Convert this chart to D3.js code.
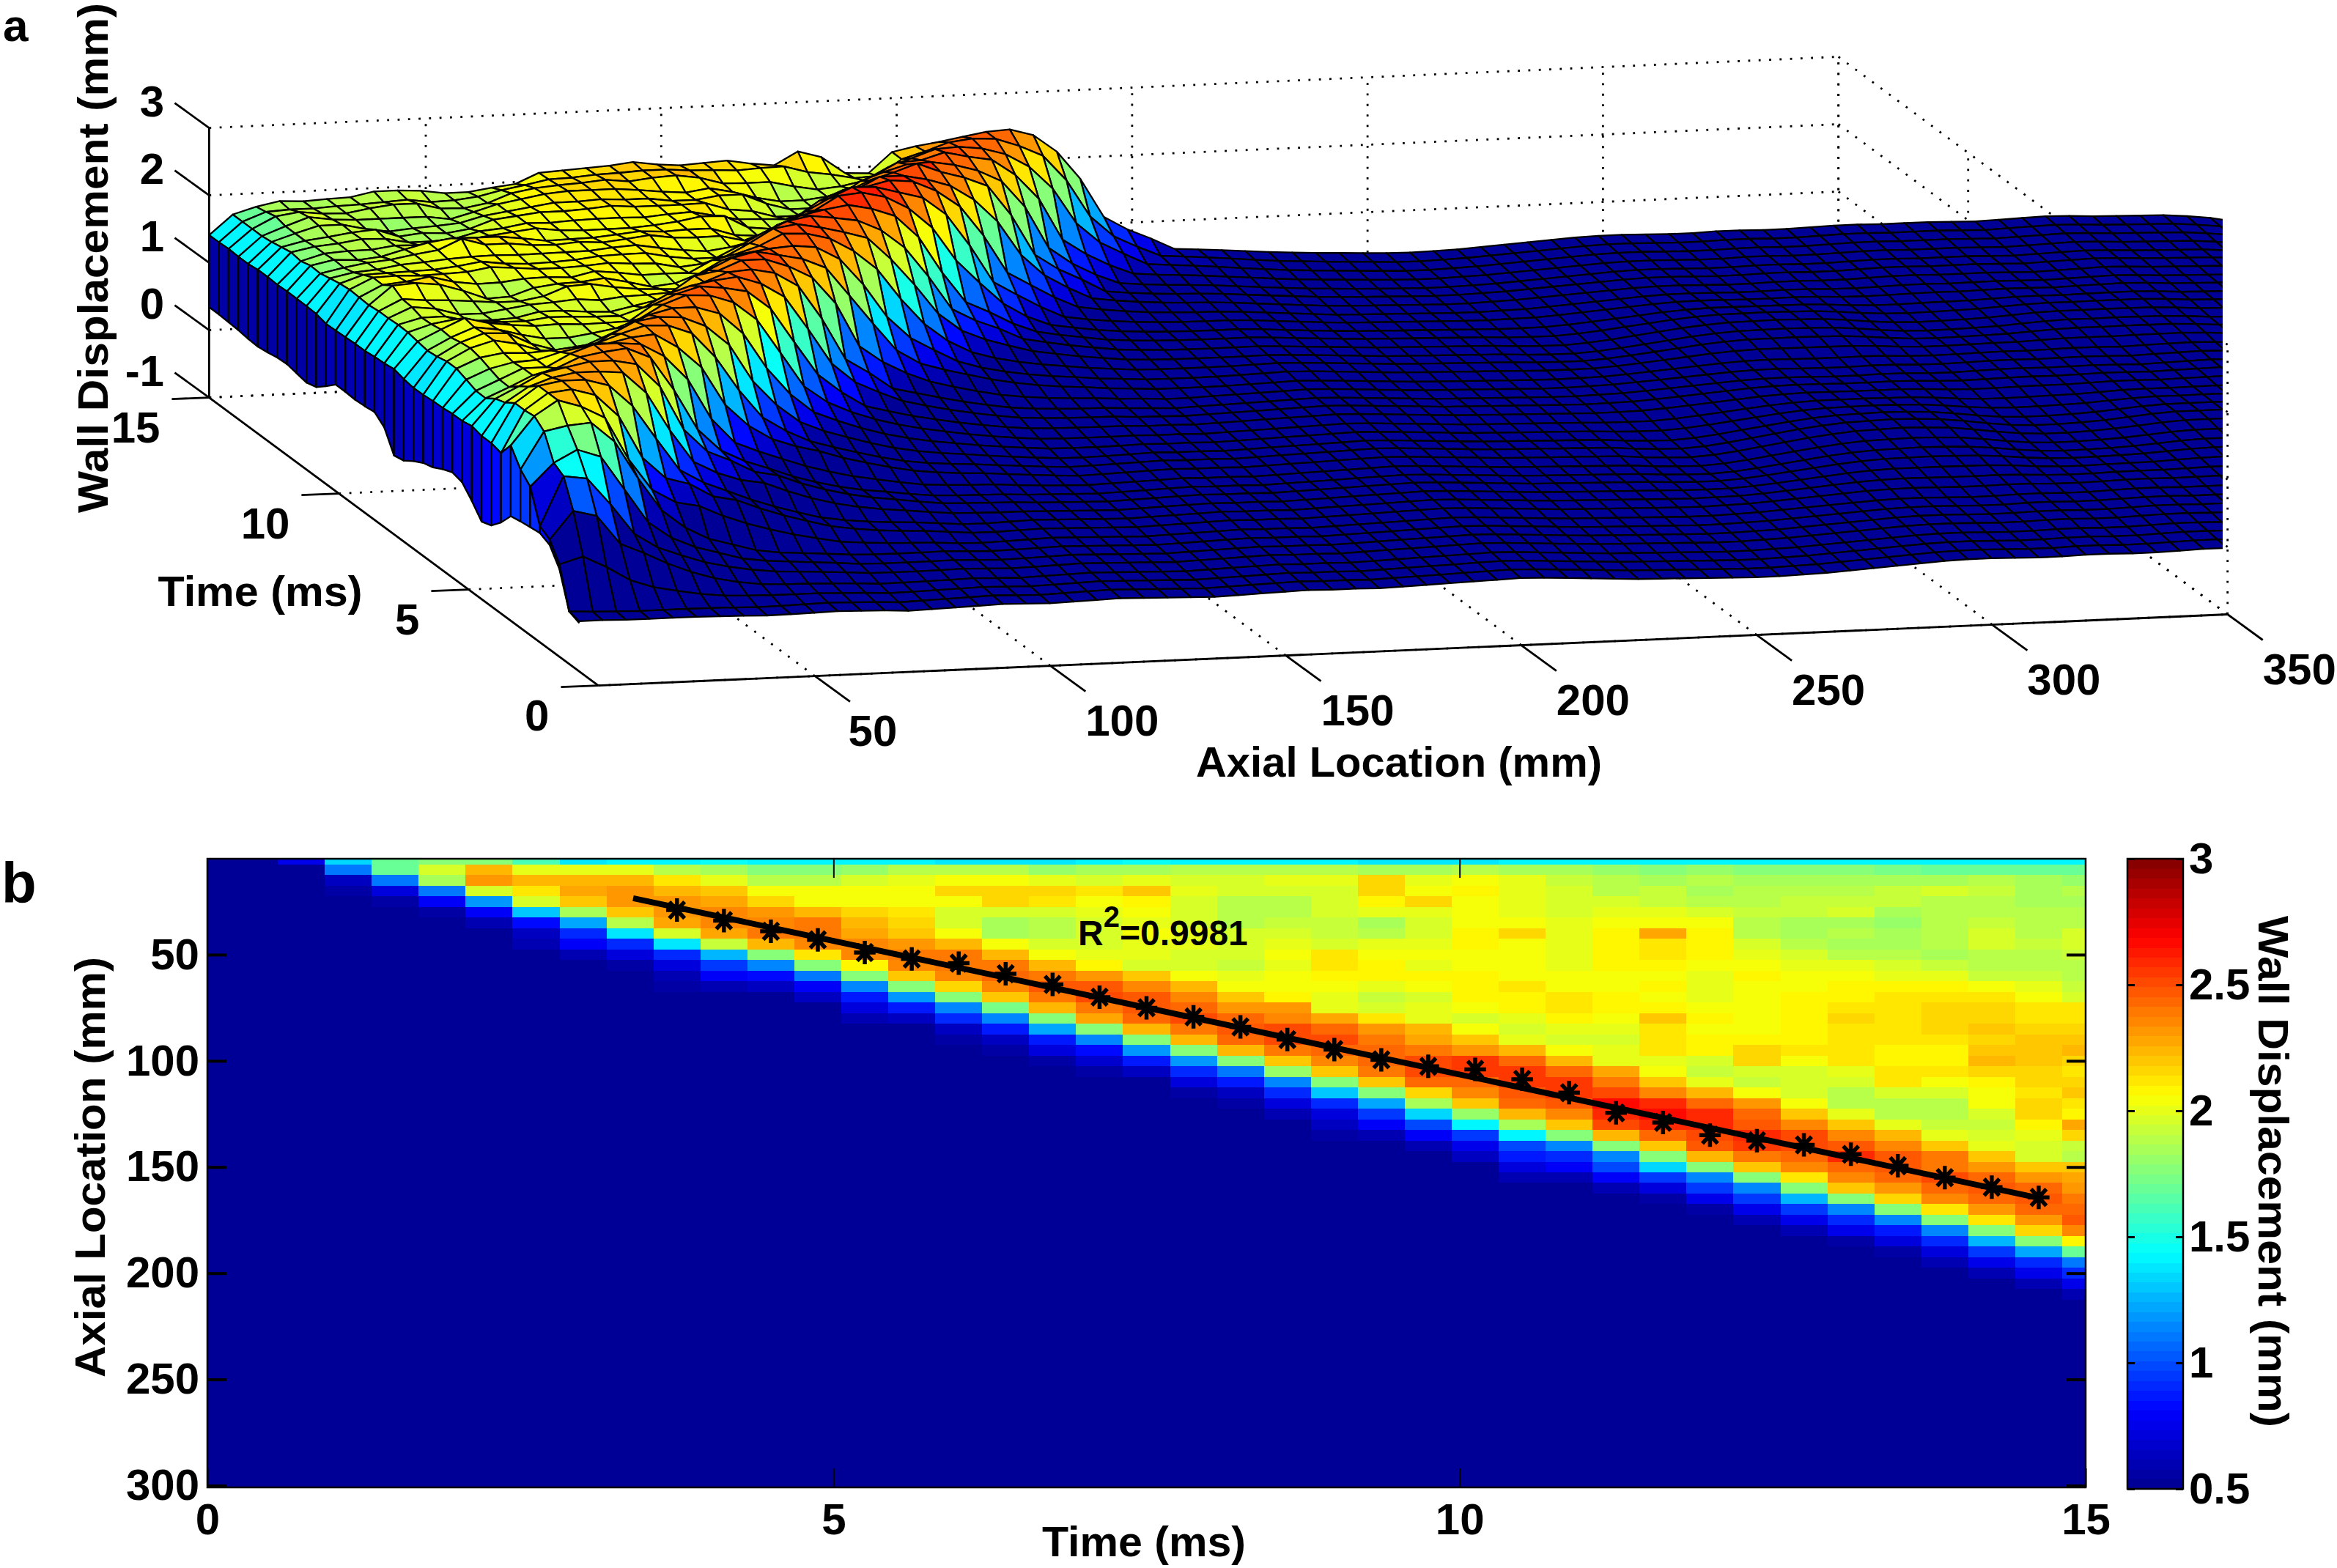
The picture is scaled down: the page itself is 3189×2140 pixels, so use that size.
<!DOCTYPE html>
<html><head><meta charset="utf-8">
<script src="https://cdnjs.cloudflare.com/ajax/libs/d3/7.8.5/d3.min.js"></script>
<style>html,body{margin:0;padding:0;background:#fff}svg{display:block}text{font-family:"Liberation Sans",Arial,sans-serif;font-weight:bold;fill:#000}</style>
</head><body><svg id="c" width="3189" height="2140" viewBox="0 0 3189 2140"></svg>
<script>
// --- values: wall displacement (mm) per time column, rows at 5 mm steps
const wall00=[],wall01=[],wall02=[.75];
const wall03=[1.35,1.12,.63,.55];
const wall04=[1.68,1.7,1.1,.72,.55];
const wall05=[1.75,1.95,1.85,1.12,.8,.56];
const wall06=[1.75,2.24,2.3,1.95,1.2,.8,.6];
const wall07=[1.6,2.02,2.24,2.13,1.95,1.32,.85,.65,.58];
const wall08=[1.38,2,2.24,2.28,2.18,1.85,1.22,.9,.8,.6,.53];
const wall09=[1.42,2,2.24,2.3,2.3,2.2,1.88,1.38,.9,.7,.56];
const wall10=[1.42,1.9,2.12,2.24,2.3,2.3,2.27,1.95,1.38,.9,.72,.6,.54];
const wall11=[1.46,1.85,2.02,2.2,2.27,2.34,2.34,2.27,1.92,1.27,.93,.78,.6,.53];
const wall12=[1.43,1.75,1.9,2.06,2.15,2.3,2.36,2.4,2.25,1.75,1.15,.82,.65,.53];
const wall13=[1.43,1.75,1.9,2.06,2.06,2.25,2.38,2.38,2.34,2.12,1.75,1.12,.78,.65,.53];
const wall14=[1.41,1.8,1.95,2.04,2.06,2.17,2.24,2.27,2.34,2.36,2.1,1.75,1.15,.88,.7,.6,.52];
const wall15=[1.41,1.87,2,2.04,2.06,2.12,2.17,2.2,2.3,2.38,2.36,2.2,1.75,1.2,.86,.65,.53];
const wall16=[1.39,1.87,2.06,2.15,2.04,1.98,1.98,2.06,2.24,2.4,2.4,2.34,2.15,1.75,1.15,.92,.65,.56];
const wall17=[1.39,1.87,2.04,2.15,2.15,1.95,1.85,1.85,2.06,2.25,2.38,2.42,2.34,2.2,1.72,1.15,.88,.65,.55];
const wall18=[1.38,1.8,2.02,2.15,2.12,1.98,1.87,1.87,1.95,2.06,2.25,2.38,2.46,2.38,2.24,1.75,1.22,.88,.7,.56];
const wall19=[1.43,1.83,1.98,2.12,2.06,2,1.95,1.95,1.98,2,2.08,2.32,2.48,2.5,2.4,2.27,1.78,1.15,.85,.68,.55];
const wall20=[1.46,1.85,2.02,2.18,2.08,2.04,2.02,2.04,2,2,1.98,2.2,2.34,2.47,2.46,2.42,2.24,1.78,1.2,.88,.62,.53];
const wall21=[1.42,1.88,1.97,2,1.95,1.95,1.95,2,2,1.98,1.98,2.06,2.25,2.36,2.44,2.5,2.4,2.25,1.78,1.2,.9,.72,.56];
const wall22=[1.42,1.88,1.97,1.97,1.88,1.88,1.9,1.98,1.98,1.95,1.93,2,2.06,2.2,2.3,2.44,2.48,2.42,2.24,1.75,1.1,.88,.62,.54];
const wall23=[1.4,1.87,2.02,1.98,1.88,1.88,1.93,1.98,2,2.03,2,2.04,2.05,2.07,2.3,2.36,2.5,2.5,2.38,2.2,1.8,1.15,.9,.72,.58];
const wall24=[1.4,1.87,2.02,1.98,1.97,1.95,1.93,1.93,1.98,2.12,2.14,2.07,2.03,2.02,2,2.28,2.44,2.52,2.44,2.36,2.2,1.75,1.32,.92,.72,.62,.54];
const wall25=[1.39,1.85,2.15,2.17,2.1,2,1.85,1.87,2,2.05,2.07,2.1,2.02,1.93,1.97,2.12,2.3,2.4,2.44,2.44,2.4,2.18,1.75,1.22,.93,.78,.6];
const wall26=[1.39,1.85,2.02,2.06,2.15,2.02,1.95,1.95,2,2.03,2,2.1,2.05,1.98,2,2.02,2.24,2.28,2.38,2.52,2.5,2.42,2.17,1.83,1.35,.97,.78,.6];
const wall27=[1.36,1.88,2.05,2.07,2.05,2.05,2.05,2.08,2.1,2.06,2.06,2.08,2.08,2.07,2.05,1.98,2.05,2.2,2.33,2.55,2.55,2.44,2.36,2.2,1.8,1.4,.95,.77,.62,.53];
const wall28=[1.4,1.85,2,2,2,2.02,2.06,2.15,2.06,2.04,2.04,2.05,2.12,2.07,2.07,2,1.98,2,2.25,2.42,2.55,2.55,2.46,2.44,2.22,1.83,1.4,1,.86,.73,.58];
const wall29=[1.43,1.85,1.93,1.95,1.97,1.97,2,2.02,2.02,2,2.02,2.05,2.06,2.13,2.14,2.07,2,1.98,2.06,2.25,2.42,2.55,2.55,2.46,2.36,2.2,1.75,1.15,.92,.78,.6];
const wall30=[1.42,1.8,1.87,1.9,1.98,2.02,2.05,2.07,2.08,2.08,2.07,2.06,2.06,2.07,2.1,2.05,2.02,1.98,2,2,2.26,2.38,2.5,2.65,2.6,2.5,2.25,1.75,1.15,.97,.78,.6];
const wall31=[1.43,1.78,1.85,1.92,1.93,2,2.06,2.27,2.12,2.12,2.07,2.06,2.1,2.06,2.1,2.18,2.12,2.12,2.12,2,2.06,2.2,2.36,2.58,2.65,2.58,2.42,2.2,1.75,1.33,.95,.73,.56];
const wall32=[1.43,1.8,1.87,1.83,1.87,1.97,2.06,2.07,2.1,2.1,2.06,2,2,2.02,2.05,2.07,2.06,2.08,2.08,1.97,1.92,2,2.25,2.42,2.6,2.6,2.52,2.46,2.24,1.75,1.15,.95,.75,.56];
const wall33=[1.42,1.75,1.85,1.88,1.88,1.92,1.9,1.88,1.95,2,2.05,2.1,2.05,2.03,2.03,2.03,2.06,2.1,2.17,2.17,1.97,1.92,2.06,2.3,2.44,2.48,2.58,2.55,2.4,2.18,1.75,1.15,.95,.75,.58];
const wall34=[1.43,1.78,1.85,1.88,1.93,1.92,1.85,1.85,1.88,1.97,2,2.06,2.05,2.07,2.08,2.08,2.07,2.1,2.12,2.05,1.98,1.97,1.95,2.06,2.2,2.34,2.52,2.52,2.45,2.34,2.12,1.78,1.27,.95,.75,.58];
const wall35=[1.43,1.75,1.83,1.87,1.92,1.95,1.83,1.87,1.85,1.9,2.02,2.06,2.1,2.1,2.12,2.15,2.12,2.12,2.12,2.13,2.02,1.98,1.88,1.88,2,2.2,2.36,2.46,2.58,2.44,2.34,2.2,1.75,1.15,.92,.75,.56];
const wall36=[1.41,1.72,1.83,1.93,1.93,1.85,1.8,1.83,1.85,1.88,1.97,2.02,2.07,2.12,2.12,2.14,2.12,2.12,2.07,2.07,2.12,2.12,1.97,1.87,1.87,2,2.24,2.36,2.46,2.48,2.42,2.32,2.15,1.75,1.13,.88,.7,.56];
const wall37=[1.41,1.7,1.83,1.95,1.9,1.88,1.88,1.88,1.88,1.83,1.92,2.02,2.08,2.14,2.17,2.17,2.17,2.14,2.1,2.07,2.12,2.05,1.95,1.88,1.88,1.92,2.02,2.2,2.38,2.4,2.5,2.42,2.36,2.12,1.75,1.13,.9,.72,.58];
const wall38=[1.42,1.7,1.87,1.92,1.88,1.87,1.93,1.97,1.97,1.88,1.87,1.93,2.06,2.12,2.15,2.17,2.2,2.16,2.2,2.22,2.17,2.07,2.06,2.06,1.98,1.92,1.95,2.02,2.2,2.32,2.44,2.46,2.42,2.32,2.12,1.78,1.25,.95,.77,.6];
const wall39=[1.41,1.7,1.83,1.85,1.85,1.87,1.88,1.9,1.92,1.87,1.88,1.92,2,2.06,2.13,2.14,2.17,2.18,2.2,2.2,2.17,2.16,2.14,2.16,2.17,2.07,2.02,1.95,1.97,2.2,2.3,2.42,2.46,2.44,2.32,2.16,1.78,1.23,.92,.75,.6];
const wall40=[1.41,1.7,1.8,1.87,1.85,1.87,1.88,1.95,1.95,1.93,1.88,1.88,1.93,1.97,2.12,2.14,2.16,2.18,2.22,2.17,2.14,2.16,2.18,2.12,2.08,2.27,2.17,1.92,1.9,2.2,2.27,2.32,2.38,2.44,2.46,2.36,2.1,1.68,1.1,.9,.75,.58];
const wallColumns=[wall00,wall01,wall02,wall03,wall04,wall05,wall06,wall07,wall08,wall09,wall10,wall11,wall12,wall13,wall14,wall15,wall16,wall17,wall18,wall19,wall20,wall21,wall22,wall23,wall24,wall25,wall26,wall27,wall28,wall29,wall30,wall31,wall32,wall33,wall34,wall35,wall36,wall37,wall38,wall39,wall40];
// panel a only: the first time columns, read from the surface where the wave enters
const front02=[-.26,-.26,-.27,-.27,-.27];
const front03=[-.22,-.24,-.25,-.26,-.26];
const front04=[.37,.47,.3,.09,-.03,-.1,-.16,-.2];
const front05=[.63,1.04,.95,.52,.37,.2,.06,-.05,-.12,-.17];
const front06=[.72,1.45,1.4,1,.55,.33,.2,.08,0,-.06,-.1];
const front07=[1.2,1.54,1.72,1.6,1.1,.6,.35,.2,.1,0,-.05];
const front08=[1.35,1.9,1.97,2,1.7,1.14,.65,.38,.2,.1,0,-.05];
const frontColumns={2:front02,3:front03,4:front04,5:front05,6:front06,7:front07,8:front08};
// on the surface the wave lags the map by up to two columns early on (time columns 9 to 40)
const surfaceLag=[2,2,2,2,2,2,1.9,1.8,1.7,1.6,1.5,1.4,1.3,1.2,1.1,1,.9,.8,.7,.6,.5,.4,.3,.2,.1,0,0,0,0,0,0,0];
// lower lip of the surface at the first axial location, one per time column from column 2
const lipValues=[-.28,-.22,.3,.55,.62,.6,.58,.55,.35,.2,.15,.35,.52,.56,.5,.42,.38,.3,.2,.17,.48,.6,.58,.57,.58,.58,.45,.33,.29,.32,.35,.34,.31,.29,.3,.32,.33,.34,.34];
const lipShade=[.5,.55,.7,.85,.92,.95,.95,.9,.85,.78,.72,.7,.7,.68,.66,.65,.62,.62,.6,.6,.6,.6,.6,.58,.58,.58,.56,.56,.55,.55,.55,.55,.55,.55,.55,.55,.55,.55,.55];
// level of the undisturbed wall, by time column (from column 2) and its drift along the axial rows
const restByTime=[-.3,-.28,-.26,-.24,-.21,-.19,-.17,-.15,-.12,-.1,-.08,-.06,-.05,-.03,0,.02,.03,.05,.07,.1,.12,.13,.15,.17,.2,.22,.23,.25,.27,.28,.3,.31,.33,.35,.36,.38,.4,.42,.44];
const restByAxial=[0,.01,0,-.01,0,.02,.01,0,-.01,0,.01,.02,.01,0,-.02,-.01,0,.01,.02,.01,0,.01,.02,.03,.02,.01,0,-.01,0,.01,.02,.03,.02,.02,.01,.02,.03,.04,.05,.06,.07,.06,.04,.02,0,-.02,-.03,-.04,-.05,-.06,-.07,-.07,-.06,-.05,-.03,-.01,.01,.03,.05,.06,.06,.05,.04,.04,.05,.05,.04,.04,.05,.06,.06,.05,.05,.05,.04,.03,.04,.05,.06,.05,.03,.02,.01,0,-.03,-.07,-.14,-.14];
// the slow undulation seen on the far right of the flat part of the surface
const swellByTime=[0,0,0,0,0,0,0,0,.1,.25,.45,.65,.8,.9,1,1,.9,.7,.5,.3,.2,.1,.1,.2,.4,.6,.7,.7,.6,.4,.2,.1,0,0,0,0,0,0,0];
const swellByAxial=[0,-.03,-.06,-.08,-.08,-.06,-.03,0,.03,.06,.09,.11,.13,.12,.09,.05,.01,-.03,-.06,-.07,-.06,-.03,0,.03,.06,.07,.06,.04,.02,.01,0];
const SWELL_START=50;
const tailShape=[.78,.6,.45,.33,.24,.17,.12,.08,.05,.02];
// fit markers and fitted line in panel b
const markerTime=[3.75,4.125,4.5,4.875,5.25,5.625,6,6.375,6.75,7.125,7.5,7.875,8.25,8.625,9,9.375,9.75,10.125,10.5,10.875,11.25,11.625,12,12.375,12.75,13.125,13.5,13.875,14.25,14.625];
const markerAxial=[29,34,39,43,49,52,54,59,64,70,75,79.3,84,90,94.7,99.5,102.6,104,108.7,115,124.5,129,135,137.6,139.6,144,149.4,155,159.5,164.3];
const fitTime=[3.4,14.6],fitAxial=[23.4,164.3];
// ticks
const xTicks3d=[50,100,150,200,250,300,350],tTicks3d=[0,5,10,15],zTicks3d=[-1,0,1,2,3];
const timeTicks=[0,5,10,15],axialTicks=[50,100,150,200,250,300],barTicks=[.5,1,1.5,2,2.5,3];

const svg=d3.select("#c");
const FS=60;
// jet colour map, 64 levels between 0.5 and 3 mm
const jetRamp=d3.scaleLinear().domain([0,1/8,3/8,5/8,7/8,1]).range(["#00008f","#0000ff","#00ffff","#ffff00","#ff0000","#800000"]).clamp(true);
const level=d3.scaleQuantize().domain([.5,3]).range(d3.range(64));
const jet=v=>jetRamp((level(Math.max(.5,Math.min(3,v)))+.5)/64);

// ---------- panel a
const X0=790.7,Y0=936.7,XMIN=4;
const xRun=d3.scaleLinear([0,350],[0,2249]),xRise=d3.scaleLinear([0,350],[0,-98.2]);
const tRun=d3.scaleLinear([0,15],[0,-531]),tRise=d3.scaleLinear([0,15],[0,-393]);
const zRise=d3.scaleLinear([-1,3],[0,-368]);
const proj=(x,t,z)=>[X0+xRun(x)+tRun(t),Y0+xRise(x)+tRise(t)+zRise(z)];
const dlt=[];
const seg=(a,b)=>dlt.push([a,b]);
xTicks3d.forEach(x=>{seg(proj(x,0,-1),proj(x,15,-1));seg(proj(x,15,-1),proj(x,15,3));});
tTicks3d.forEach(t=>{seg(proj(XMIN,t,-1),proj(350,t,-1));seg(proj(350,t,-1),proj(350,t,3));});
zTicks3d.forEach(z=>{seg(proj(XMIN,15,z),proj(350,15,z));seg(proj(350,15,z),proj(350,0,z));});
const a3=svg.append("g");
a3.selectAll("line.g").data(dlt).join("line").attr("class","g")
 .attr("x1",d=>d[0][0]).attr("y1",d=>d[0][1]).attr("x2",d=>d[1][0]).attr("y2",d=>d[1][1])
 .attr("stroke","#000").attr("stroke-width",2.8).attr("stroke-dasharray","2.8 11.5");
const solid=[[proj(XMIN,0,-1),proj(350,0,-1)],[proj(XMIN,0,-1),proj(XMIN,15,-1)],[proj(XMIN,15,-1),proj(XMIN,15,3)]];
const tk=[];
xTicks3d.forEach(x=>{const p=proj(x,0,-1);tk.push([p,[p[0]+48,p[1]+35]]);});
tTicks3d.forEach(t=>{const p=proj(XMIN,t,-1);tk.push([p,[p[0]-51,p[1]+2]]);});
zTicks3d.forEach(z=>{const p=proj(XMIN,15,z);tk.push([p,[p[0]-47,p[1]-34]]);});
a3.selectAll("line.s").data(solid.concat(tk)).join("line").attr("class","s")
 .attr("x1",d=>d[0][0]).attr("y1",d=>d[0][1]).attr("x2",d=>d[1][0]).attr("y2",d=>d[1][1])
 .attr("stroke","#000").attr("stroke-width",2.8);
// tick labels
a3.selectAll("text.x").data(xTicks3d).join("text").attr("class","x").attr("font-size",FS).attr("text-anchor","middle")
 .attr("x",x=>proj(x,0,-1)[0]+(x<100?79:98)).attr("y",x=>proj(x,0,-1)[1]+95).text(d=>d);
a3.selectAll("text.t").data(tTicks3d).join("text").attr("class","t").attr("font-size",FS).attr("text-anchor","end")
 .attr("x",t=>proj(XMIN,t,-1)[0]-67).attr("y",t=>proj(XMIN,t,-1)[1]+61).text(d=>d);
a3.selectAll("text.z").data(zTicks3d).join("text").attr("class","z").attr("font-size",FS).attr("text-anchor","end")
 .attr("x",224).attr("y",z=>proj(XMIN,15,z)[1]-16).text(d=>d);

// surface
const ROWS=87;
const rowX=j=>XMIN+5*j;
const fromColumn=(a,k,j)=>{
 const sw=(swellByAxial[j-SWELL_START]||0)*swellByTime[k-2];
 const rest=restByTime[k-2]+(restByAxial[j]||0)+sw;
 if(j<a.length)return a[j];
 const n=j-a.length,last=a[a.length-1];
 return rest+(last>rest&&n<tailShape.length?(last-rest)*tailShape[n]:0);};
const zAt=(k,j)=>{
 if(frontColumns[k])return fromColumn(frontColumns[k],k,j);
 const c=k-surfaceLag[k-9],c0=Math.floor(c),f=c-c0;
 const v0=fromColumn(wallColumns[c0],k,j);
 return f?v0*(1-f)+fromColumn(wallColumns[c0+1],k,j)*f:v0;};
const quads=[];
for(let k=39;k>=2;k--){for(let j=ROWS-2;j>=0;j--){
 const z=zAt(k,j);
 quads.push({p:[proj(rowX(j),k*.375,z),proj(rowX(j+1),k*.375,zAt(k,j+1)),proj(rowX(j+1),(k+1)*.375,zAt(k+1,j+1)),proj(rowX(j),(k+1)*.375,zAt(k+1,j))],v:z});}
 // the lip hanging below the first row
 quads.push({p:[proj(rowX(0),k*.375,lipValues[k-2]),proj(rowX(0),k*.375,zAt(k,0)),proj(rowX(0),(k+1)*.375,zAt(k+1,0)),proj(rowX(0),(k+1)*.375,lipValues[k-1])],v:lipShade[k-2]});
}
svg.append("clipPath").attr("id","surfClip").append("rect").attr("x",0).attr("y",0).attr("width",3033).attr("height",1100);
svg.append("g").attr("clip-path","url(#surfClip)").selectAll("path").data(quads).join("path")
 .attr("d",d=>d3.line()(d.p)+"Z").attr("fill",d=>jet(d.v)).attr("stroke","#000").attr("stroke-width",2.3).attr("stroke-linejoin","round");

// ---------- panel b
const HX0=283,HX1=2846,HY0=1172,HY1=2030;
const tS=d3.scaleLinear([0,15],[HX0,HX1]);
const yS=d3.scaleLinear([5,300],[1172.5,2027.5]);
svg.append("clipPath").attr("id","heatClip").append("rect").attr("x",HX0).attr("y",HY0).attr("width",HX1-HX0).attr("height",HY1-HY0);
const cells=[];
wallColumns.forEach((col,k)=>{d3.range(60).forEach(j=>cells.push({k,j,v:j<col.length?col[j]:.5}));});
svg.append("g").attr("clip-path","url(#heatClip)").attr("shape-rendering","crispEdges").selectAll("rect").data(cells).join("rect")
 .attr("x",d=>tS((d.k-.5)*.375)).attr("y",d=>yS(5*(d.j+1)-2.5))
 .attr("width",tS(.375)-tS(0)+.6).attr("height",yS(5)-yS(0)+.6).attr("fill",d=>jet(d.v));
svg.append("line").attr("x1",tS(fitTime[0])).attr("y1",yS(fitAxial[0])).attr("x2",tS(fitTime[1])).attr("y2",yS(fitAxial[1])).attr("stroke","#000").attr("stroke-width",8);
const asterisk={draw(ctx,size){const r=Math.sqrt(size);d3.range(8).forEach(i=>{const a=i*Math.PI/4;ctx.moveTo(0,0);ctx.lineTo(r*.92*Math.sin(a),r*Math.cos(a));});}};
svg.append("g").selectAll("path").data(markerTime).join("path")
 .attr("transform",(d,i)=>`translate(${tS(d)},${yS(markerAxial[i])})`)
 .attr("d",d3.symbol().type(asterisk).size(256)).attr("fill","none").attr("stroke","#000").attr("stroke-width",5.5);
// axes
const styleAxis=(g,w)=>{g.select(".domain").remove();g.selectAll("line").attr("stroke","#000").attr("stroke-width",w);g.selectAll("text").attr("font-size",FS).attr("font-family",'"Liberation Sans",Arial,sans-serif').attr("font-weight","bold");g.attr("fill",null);};
svg.append("g").attr("transform",`translate(0,${HY1})`).call(d3.axisBottom(tS).tickValues(timeTicks).tickFormat(d=>d).tickSizeInner(-26).tickPadding(21)).call(styleAxis,2);
svg.append("g").attr("transform",`translate(0,${HY0})`).call(d3.axisTop(tS).tickValues(timeTicks.slice(1,3)).tickFormat("").tickSizeInner(-26)).call(styleAxis,2);
svg.append("g").attr("transform",`translate(${HX0},0)`).call(d3.axisLeft(yS).tickValues(axialTicks).tickSizeInner(-26).tickPadding(11)).call(styleAxis,4);
svg.append("g").attr("transform",`translate(${HX1},0)`).call(d3.axisRight(yS).tickValues(axialTicks).tickFormat("").tickSizeInner(-26)).call(styleAxis,4);
svg.append("rect").attr("x",HX0).attr("y",HY0).attr("width",HX1-HX0).attr("height",HY1-HY0).attr("fill","none").attr("stroke","#000").attr("stroke-width",2.5);
// colour bar
const BX0=2903,BX1=2979,BY0=1172,BY1=2032;
const cS=d3.scaleLinear([.5,3],[BY1,BY0]);
svg.append("g").attr("shape-rendering","crispEdges").selectAll("rect").data(d3.range(64)).join("rect")
 .attr("x",BX0).attr("width",BX1-BX0).attr("y",i=>cS(.5+2.5*(i+1)/64)).attr("height",(BY1-BY0)/64+.6).attr("fill",i=>jetRamp((i+.5)/64));
svg.append("g").attr("transform",`translate(${BX1},0)`).call(d3.axisRight(cS).tickValues(barTicks).tickFormat(d=>d).tickSizeInner(-10).tickPadding(8)).call(styleAxis,3);
svg.append("g").attr("transform",`translate(${BX0},0)`).call(d3.axisLeft(cS).tickValues(barTicks).tickFormat("").tickSizeInner(-10)).call(styleAxis,3);
svg.append("rect").attr("x",BX0).attr("y",BY0).attr("width",BX1-BX0).attr("height",BY1-BY0).attr("fill","none").attr("stroke","#000").attr("stroke-width",2.5);

// ---------- titles
const labels=[
 {s:"Wall Displacement (mm)",x:147,y:352,r:-90,w:696},
 {s:"Time (ms)",x:355,y:827,r:0,w:279},
 {s:"Axial Location (mm)",x:1909,y:1060,r:0,w:554},
 {s:"Axial Location (mm)",x:143,y:1593,r:-90,w:574},
 {s:"Time (ms)",x:1561,y:2124,r:0,w:278},
 {s:"Wall Displacement (mm)",x:3082,y:1599,r:90,w:698}];
svg.append("g").selectAll("text").data(labels).join("text").attr("font-size",58).attr("text-anchor","middle")
 .attr("textLength",d=>d.w).attr("lengthAdjust","spacingAndGlyphs")
 .attr("transform",d=>`translate(${d.x},${d.y}) rotate(${d.r})`).text(d=>d.s);
svg.append("text").attr("x",4).attr("y",56).attr("font-size",62).text("a");
svg.append("text").attr("x",2).attr("y",1232).attr("font-size",78).text("b");
const r2=svg.append("text").attr("x",1471).attr("y",1290).attr("font-size",48);
r2.append("tspan").text("R");
r2.append("tspan").attr("dy",-25).attr("font-size",40).text("2");
r2.append("tspan").attr("dy",25).text("=0.9981");
</script></body></html>
